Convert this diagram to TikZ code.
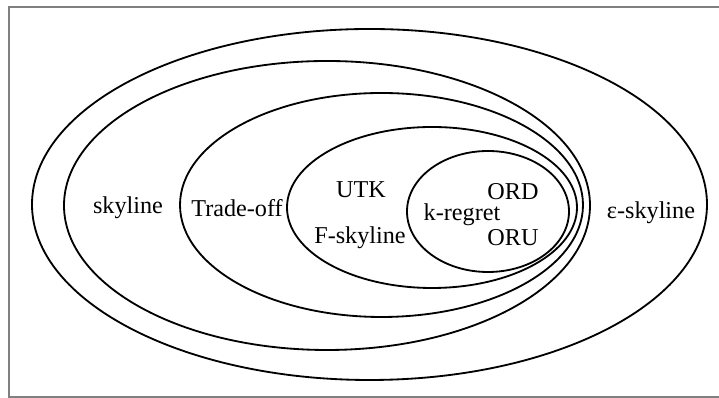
\documentclass[tikz,border=0pt]{standalone}
\usepackage{fontspec}
\setmainfont{Liberation Serif}
\usepackage{tikz}
\usetikzlibrary{positioning}

\begin{document}
\begin{tikzpicture}[x=0.025cm, y=0.025cm]
\tikzstyle{set}=[draw, line width = 1.3pt]
\tikzstyle{lbl}=[inner sep = 1 pt, font=\fontsize{17.2}{20}\selectfont]
\useasboundingbox (0,0) rectangle (719,398);

% frame
\draw[line width = 1.4pt, color = black!50] (722,391) -- (9,391) -- (9,1) -- (722,1);

% nested sets
\draw[set] (369.5,193.5) ellipse (337.5 and 175.5);
\draw[set] (327,192.5) ellipse (263 and 144.5);
\draw[set] (381.5,193) ellipse (201.5 and 112);
\draw[set] (432,190.5) ellipse (145 and 80.5);
\draw[set] (488,186.5) ellipse (81 and 60.5);

\node[lbl] (sky) at (128,190) {skyline};
\node[lbl] (trade) at (237,190) {Trade-off};
\node[lbl] (utk) at (361,208) {UTK};
\node[lbl] (fsky) at (360,160) {F-skyline};
\node[lbl] (kreg) at (462,183) {k-regret};
\node[lbl] (ord) at (513,206) {ORD};
\node[lbl] (oru) at (513,160) {ORU};
\node[lbl] (eps) at (651,185) {ε-skyline};
\end{tikzpicture}
\end{document}
